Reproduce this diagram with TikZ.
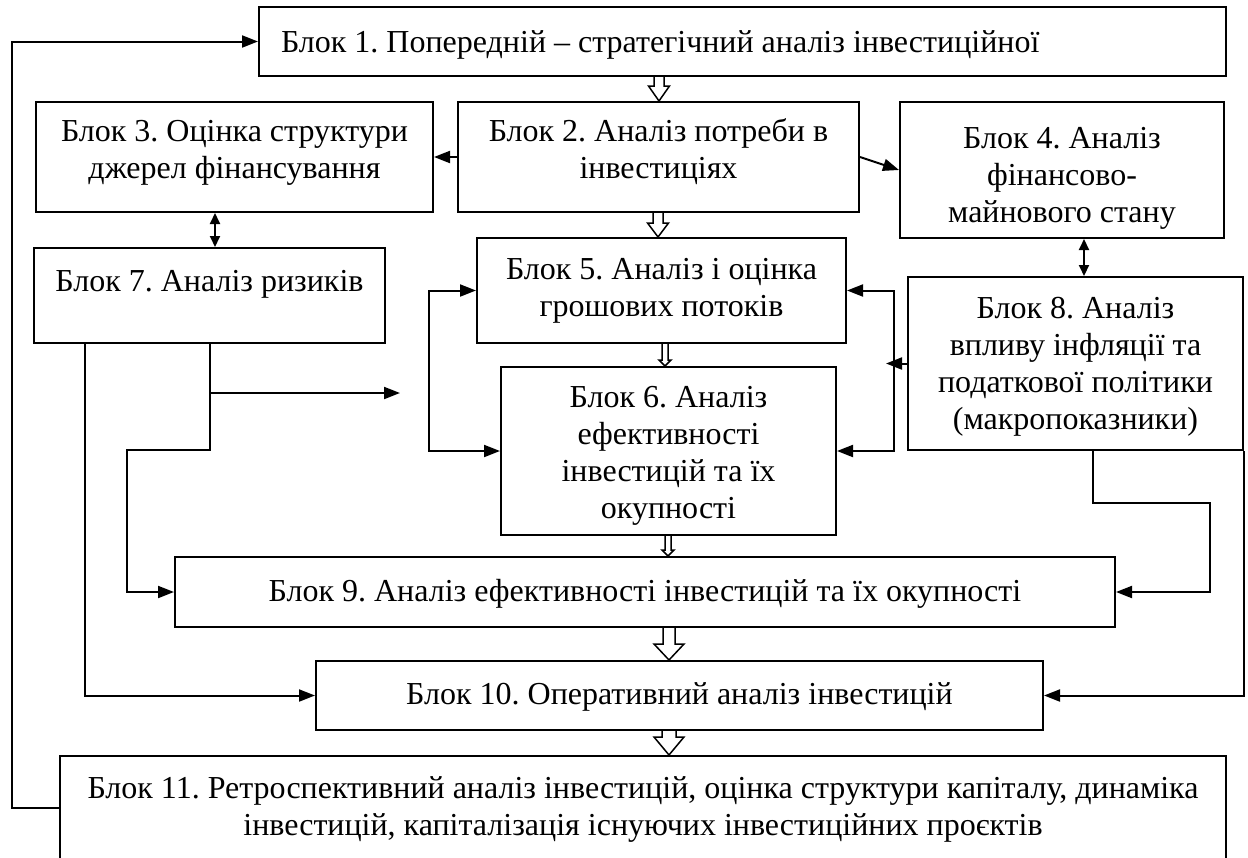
\documentclass[tikz,border=0pt]{standalone}
\usepackage{fontspec}
\setmainfont{Liberation Serif}
\usetikzlibrary{arrows.meta,calc}
\frenchspacing
\newcommand\hollowarr[5]{\draw[hollow] let \p1=(#1), \p2=(#2) in (\x1-#3,\y1) -- (\x1-#3,\y2+#5) -- (\x1-#4,\y2+#5) -- (\x1,\y2) -- (\x1+#4,\y2+#5) -- (\x1+#3,\y2+#5) -- (\x1+#3,\y1);}
\newcommand\lines[1]{\begin{tabular}[t]{@{}c@{}}#1\end{tabular}}
\begin{document}
\begin{tikzpicture}[x=0.5pt,y=-0.5pt,
  box/.style={draw,line width=1pt,rectangle,inner sep=0pt,font=\fontsize{16}{18.5}\selectfont},
  arr/.style={line width=1pt,-{Triangle[length=8pt,width=6pt]}},
  arrboth/.style={line width=1pt,{Triangle[length=8pt,width=6pt]}-{Triangle[length=8pt,width=6pt]}},
  dbl/.style={line width=1pt,{Triangle[length=5.5pt,width=5pt]}-{Triangle[length=5.5pt,width=5pt]}},
  hollow/.style={line width=0.75pt,line join=miter}]
\useasboundingbox[fill=white] (0,0) rectangle (1248,857);

\node[box,minimum width=483.5pt,minimum height=34.5pt,text height=13.25pt,text depth=2.75pt] (b1) at (742.5,41.5) {\makebox[461.5pt][l]{Блок 1. Попередній – стратегічний аналіз інвестиційної}};
\node[box,minimum width=200.5pt,minimum height=55pt,text height=9.25pt,text depth=25.25pt] (b2) at (658.5,157) {\lines{Блок 2. Аналіз потреби в\\інвестиціях}};
\node[box,minimum width=198.5pt,minimum height=55pt,text height=9.25pt,text depth=25.25pt] (b3) at (234.5,157) {\lines{Блок 3. Оцінка структури\\джерел фінансування}};
\node[box,minimum width=162pt,minimum height=68pt,text height=15.5pt,text depth=37.5pt] (b4) at (1062,170) {\lines{Блок 4. Аналіз\\фінансово-\\майнового стану}};
\node[box,minimum width=184.5pt,minimum height=52.5pt,text height=11.75pt,text depth=22.75pt] (b5) at (661.5,290.5) {\lines{Блок 5. Аналіз і оцінка\\грошових потоків}};
\node[box,minimum width=167.5pt,minimum height=84pt,text height=13.75pt,text depth=57.75pt] (b6) at (668.5,451) {\lines{Блок 6. Аналіз\\ефективності\\інвестицій та їх\\окупності}};
\node[box,minimum width=175.5pt,minimum height=47.5pt,text height=5.75pt,text depth=10.25pt] (b7) at (209.5,295.5) {\lines{Блок 7. Аналіз ризиків}};
\node[box,minimum width=167.5pt,minimum height=86.5pt,text height=13pt,text depth=58.5pt] (b8) at (1075.5,363.5) {\lines{Блок 8. Аналіз\\впливу інфляції та\\податкової політики\\(макропоказники)}};
\node[box,minimum width=470pt,minimum height=35pt,text height=12.5pt,text depth=3.5pt] (b9) at (645,592) {\lines{Блок 9. Аналіз ефективності інвестицій та їх окупності}};
\node[box,minimum width=363.5pt,minimum height=34.5pt,text height=12.5pt,text depth=3.5pt] (b10) at (679.5,695.5) {\lines{Блок 10. Оперативний аналіз інвестицій}};
\node[box,minimum width=583pt,minimum height=52pt,text height=12.25pt,text depth=22.25pt] (b11) at (643,808) {\lines{Блок 11. Ретроспективний аналіз інвестицій, оцінка структури капіталу, динаміка\\інвестицій, капіталізація існуючих інвестиційних проєктів}};

\coordinate (xa) at (659,0);
\coordinate (xb) at (658,0);
\coordinate (xc) at (665,0);
\coordinate (xd) at (668,0);
\coordinate (xe) at (669,0);
\coordinate (xF) at (12,0);
\coordinate (x37) at (215,0);
\coordinate (x48) at (1084,0);
\coordinate (xL) at (429,0);
\coordinate (xR) at (894,0);
\coordinate (xRt) at (886,0);
\coordinate (x85) at (85,0);
\coordinate (x210) at (210,0);
\coordinate (k1) at (210,450);
\coordinate (k2) at (127,450);
\coordinate (k3) at (210,393);
\coordinate (k4) at (400,393);
\coordinate (x1093) at (1093,0);
\coordinate (k5) at (1093,503);
\coordinate (k6) at (1210,503);

\draw[arr] (b11.west) -- (xF |- b11.west) |- (b1.west);
\draw[arr] (b2.west) -- (b3.east |- b2.west);
\draw[arr] (b2.east) -- (b4.west);
\draw[dbl] (b3.south -| x37) -- (b7.north -| x37);
\draw[dbl] (b4.south -| x48) -- (b8.north -| x48);
\draw[arrboth] (b5.west) -| (xL |- b6.west) -- (b6.west);
\draw[arrboth] (b5.east) -| (xR |- b6.east) -- (b6.east);
\draw[arr] (b8.west) -- (xRt |- b8.west);
\draw[arr] (b7.south -| x85) |- (b10.west);
\draw[arr] (b7.south -| x210) -- (k1) -- (k2) |- (b9.west);
\draw[arr] (k3) -- (k4);
\draw[arr] (b8.south -| x1093) -- (k5) -- (k6) |- (b9.east);
\draw[arr] (b8.south east) |- (b10.east);

\hollowarr{b1.south -| xa}{b2.north -| xa}{2.5pt}{5.25pt}{7.5pt}
\hollowarr{b2.south -| xb}{b5.north -| xb}{2.5pt}{5.25pt}{7pt}
\hollowarr{b5.south -| xc}{b6.north -| xc}{1.5pt}{3pt}{3pt}
\hollowarr{b6.south -| xd}{b9.north -| xd}{1.5pt}{3pt}{3pt}
\hollowarr{b9.south -| xe}{b10.north -| xe}{3pt}{7.5pt}{8pt}
\hollowarr{b10.south -| xe}{b11.north -| xe}{3.5pt}{7.5pt}{9pt}
\end{tikzpicture}
\end{document}
